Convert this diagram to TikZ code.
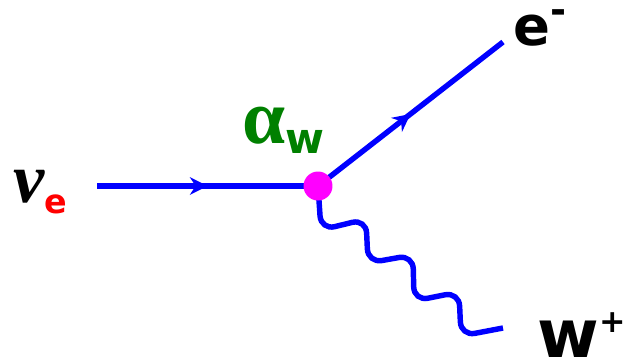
\documentclass[tikz,border=0pt]{standalone}
\usepackage{fontspec}
\setmainfont{DejaVu Sans}
\newfontfamily\greekfont{Liberation Serif}
\usepackage{tikz}
\usetikzlibrary{arrows.meta,positioning,decorations.markings}
\definecolor{LineBlue}{HTML}{0000FF}
\definecolor{VertexPink}{HTML}{FF00FF}
\definecolor{CouplingGreen}{HTML}{008000}
\definecolor{FlavourRed}{HTML}{FF0000}

\begin{document}
\begin{tikzpicture}[
  x=0.02cm, y=-0.02cm,
  % ── fermion line with arrow in the middle ────────────────────────────────
  fermion/.style={
    draw=LineBlue, line width=3.1pt,
    postaction={decorate},
    decoration={markings,
      mark=at position 0.5 with {\arrow{Stealth[length=10pt,width=10pt]}}}
  },
  % ── W boson (square-ish wave) ────────────────────────────────────────────
  boson/.style={draw=LineBlue, line width=3.1pt, rounded corners=8pt},
  % ── interaction vertex ───────────────────────────────────────────────────
  vertex/.style={circle, fill=VertexPink, minimum size=16.5pt, inner sep=0pt},
  % ── particle labels ──────────────────────────────────────────────────────
  particle/.style={inner sep=0pt, anchor=base west, text depth=0pt, font=\bfseries},
]
\useasboundingbox (0,0) rectangle (630,363);

%% ── End points and vertex ──
\coordinate (vin)  at (97,186);
\coordinate (eout) at (503,42);
\coordinate (wout) at (503,328);

%% ── Lines ──
\draw[fermion] (vin) -- (318,186) coordinate (vc);
\draw[fermion] (vc) -- (eout);
\draw[boson] (vc) -- (321,230) -- (366,219) -- (368,263) -- (413,255)
  -- (414,301) -- (459,292) -- (461,336) -- (wout);
\node[vertex] (V) at (vc) {};

%% ── Labels ──
\node[particle] (nue) at (13,202)
  {{\greekfont\itshape\fontsize{40}{44}\selectfont ν}\raisebox{-6.8pt}{\textcolor{FlavourRed}{\fontsize{19}{22}\selectfont e}}};
\node[particle, text=CouplingGreen] (alw) at (242,143)
  {{\greekfont\fontsize{44}{48}\selectfont α}\raisebox{-5.7pt}{\fontsize{24}{28}\selectfont w}};
\node[particle] (elec) at (513,45)
  {\fontsize{31}{36}\selectfont e\raisebox{12pt}[0pt][0pt]{\fontsize{22}{24}\selectfont -}};
\node[particle] (wplus) at (537,357)
  {\fontsize{38}{44}\selectfont w\raisebox{14pt}[0pt][0pt]{\fontsize{18}{20}\selectfont +}};

\end{tikzpicture}
\end{document}
